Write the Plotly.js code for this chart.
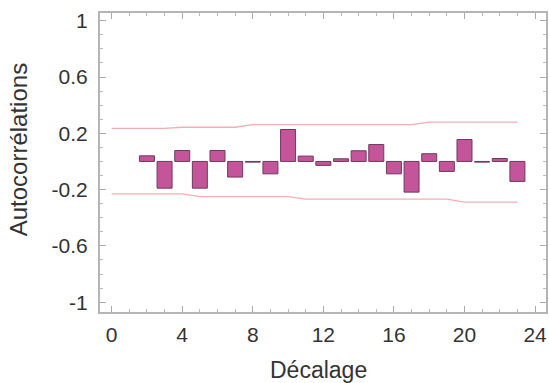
<!DOCTYPE html>
<html>
<head>
<meta charset="utf-8">
<script src="https://cdn.plot.ly/plotly-3.0.1.min.js"></script>
<style>html,body{margin:0;padding:0;background:#fff;}#chart{width:549px;height:383px;}</style>
</head>
<body>
<div id="chart"></div>
<script>
const lags = [2,3,4,5,6,7,8,9,10,11,12,13,14,15,16,17,18,19,20,21,22,23];
const acf = [0.04,-0.19,0.078,-0.19,0.078,-0.111,-0.005,-0.088,0.227,0.038,-0.028,0.019,0.076,0.12,-0.088,-0.218,0.055,-0.071,0.156,-0.005,0.021,-0.142];
const bandLags = [0,1,2,3,4,5,6,7,8,9,10,11,12,13,14,15,16,17,18,19,20,21,22,23];
const upper = [0.235,0.235,0.235,0.235,0.243,0.243,0.243,0.243,0.261,0.261,0.261,0.261,0.261,0.261,0.261,0.261,0.261,0.261,0.28,0.28,0.28,0.28,0.28,0.28];
const lower = [-0.23,-0.23,-0.23,-0.23,-0.23,-0.25,-0.25,-0.25,-0.25,-0.25,-0.25,-0.268,-0.268,-0.268,-0.268,-0.268,-0.268,-0.268,-0.268,-0.268,-0.289,-0.289,-0.289,-0.289];
const xTicks = [0,4,8,12,16,20,24];
const yTicks = [-1,-0.6,-0.2,0.2,0.6,1];
const yTickText = ['-1','-0.6','-0.2','0.2','0.6','1'];
const xTitle = 'Décalage';
const yTitle = 'Autocorrélations';

const data = [
  {type:'bar', x:lags, y:acf, width:0.85,
   marker:{color:'#c4559a', line:{color:'#6e3a5c', width:1}}, hoverinfo:'x+y'},
  {type:'scatter', mode:'lines', x:bandLags, y:upper, line:{color:'#f2aeb3', width:1.3}},
  {type:'scatter', mode:'lines', x:bandLags, y:lower, line:{color:'#f2aeb3', width:1.3}}
];
const fam = '"Liberation Sans", Arial, sans-serif';
const layout = {
  width:549, height:383,
  margin:{l:100, r:3, t:13, b:71},
  paper_bgcolor:'#fff', plot_bgcolor:'#fff',
  showlegend:false, bargap:0,
  font:{family:fam, size:20, color:'#333'},
  xaxis:{range:[-0.66,24.62], tickvals:xTicks, ticktext:xTicks.map(String),
    ticks:'inside', ticklen:6, tickcolor:'#aaa', tickwidth:1,
    showline:true, linecolor:'#b5b5b5', linewidth:2, mirror:'allticks',
    showgrid:false, zeroline:false,
    minor:{ticks:'inside', dtick:1, tick0:0, ticklen:3, tickcolor:'#bbb', showgrid:false},
    tickfont:{family:fam, size:21, color:'#333'}, ticklabelstandoff:3},
  yaxis:{range:[-1.07,1.055], tickvals:yTicks, ticktext:yTickText,
    ticks:'inside', ticklen:6, tickcolor:'#aaa', tickwidth:1,
    showline:true, linecolor:'#b5b5b5', linewidth:2, mirror:'allticks',
    showgrid:false, zeroline:false,
    minor:{ticks:'inside', dtick:0.1, tick0:0, ticklen:3, tickcolor:'#bbb', showgrid:false},
    tickfont:{family:fam, size:21, color:'#333'}, ticklabelstandoff:6},
  annotations:[
    {text:xTitle, xref:'paper', yref:'paper', x:(318-100)/446, y:-(370-311.7)/299,
     xanchor:'center', yanchor:'middle', showarrow:false, font:{family:fam, size:23, color:'#333'}},
    {text:yTitle, xref:'paper', yref:'paper', x:-(100-18)/446, y:(311.7-150)/299, textangle:-90,
     xanchor:'center', yanchor:'middle', showarrow:false, font:{family:fam, size:24, color:'#333'}}
  ]
};
Plotly.newPlot('chart', data, layout, {displayModeBar:false, staticPlot:true});
</script>
</body>
</html>
